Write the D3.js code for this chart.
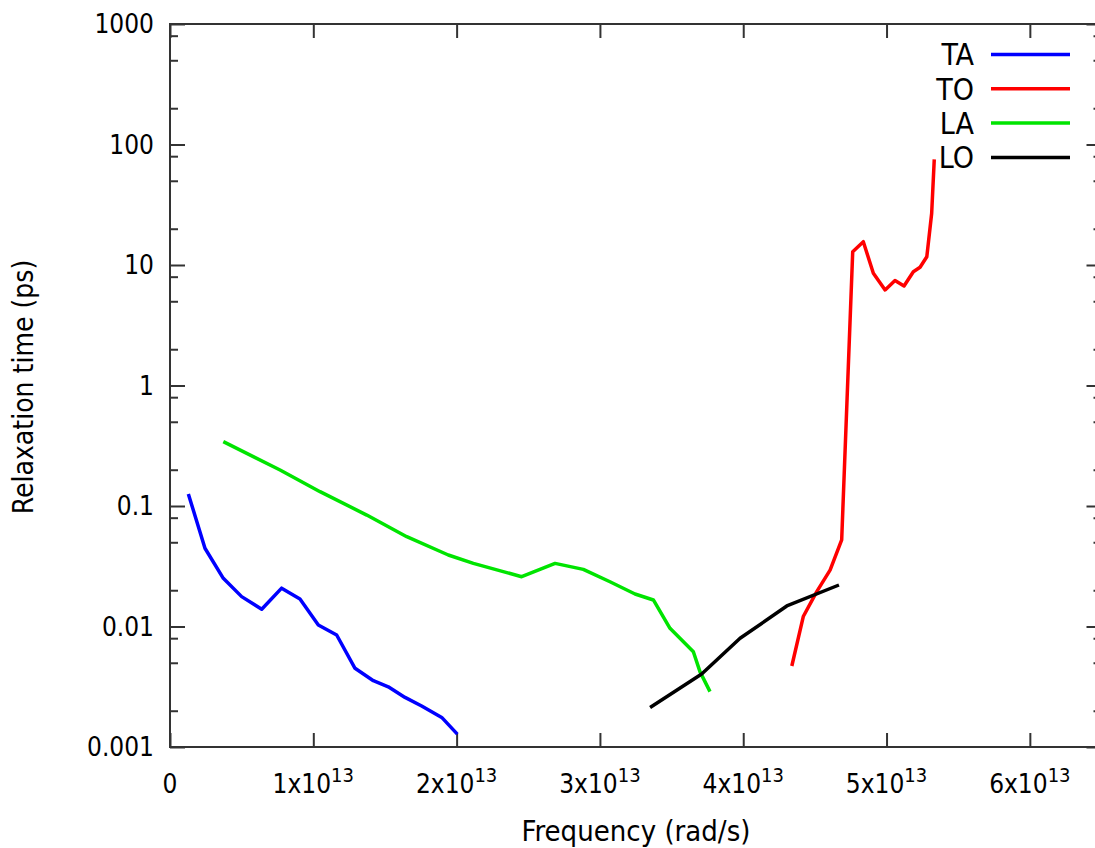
<!DOCTYPE html>
<html>
<head>
<meta charset="utf-8">
<script src="https://cdn.jsdelivr.net/npm/d3@7"></script>
<style>
  body { margin: 0; background: #fff; }
  text { font-family: "DejaVu Sans Condensed", "Liberation Sans", sans-serif; fill: #000; }
</style>
</head>
<body>
<svg id="chart"></svg>
<script>
// frequencies in rad/s, relaxation times in ps
var taFreq = [0.128e13, 0.244e13, 0.372e13, 0.500e13, 0.640e13, 0.779e13, 0.907e13, 1.035e13,
              1.163e13, 1.291e13, 1.419e13, 1.523e13, 1.640e13, 1.756e13, 1.896e13, 2.005e13];
var taTime = [0.126, 0.0446, 0.0251, 0.0177, 0.0139, 0.0208, 0.0169, 0.0103,
              0.0085, 0.0045, 0.00355, 0.00316, 0.00258, 0.00219, 0.00176, 0.00128];

var toFreq = [4.339e13, 4.419e13, 4.513e13, 4.606e13, 4.687e13, 4.764e13, 4.838e13, 4.908e13,
              4.990e13, 5.059e13, 5.122e13, 5.187e13, 5.234e13, 5.281e13, 5.315e13, 5.333e13];
var toTime = [0.0047, 0.0121, 0.0195, 0.0294, 0.0523, 12.9, 15.6, 8.53,
              6.21, 7.43, 6.69, 8.80, 9.57, 11.7, 26.9, 75.3];

var laFreq = [0.372e13, 0.768e13, 1.047e13, 1.373e13, 1.652e13, 1.942e13, 2.117e13, 2.454e13,
              2.687e13, 2.884e13, 3.070e13, 3.245e13, 3.373e13, 3.489e13, 3.652e13, 3.698e13, 3.768e13];
var laTime = [0.342, 0.199, 0.1315, 0.0841, 0.0556, 0.0392, 0.0334, 0.0259,
              0.0334, 0.0298, 0.0235, 0.0186, 0.0166, 0.00966, 0.00618, 0.00422, 0.00288];

var loFreq = [3.350e13, 3.710e13, 3.978e13, 4.304e13, 4.668e13];
var loTime = [0.00213, 0.00404, 0.00798, 0.0148, 0.0221];

var seriesNames = ["TA", "TO", "LA", "LO"];
var seriesColors = ["#0000ff", "#ff0000", "#00e400", "#000000"];

var yTicks = [1000, 100, 10, 1, 0.1, 0.01, 0.001];
var yTickLabels = ["1000", "100", "10", "1", "0.1", "0.01", "0.001"];
var yMinorFactors = [2, 5, 8];
var xTicks = [0, 1e13, 2e13, 3e13, 4e13, 5e13, 6e13];
var xTickMantissa = ["0", "1", "2", "3", "4", "5", "6"];

var svgWidth = 1095, svgHeight = 848;
var plotLeft = 170, plotTop = 24, plotRight = 1101.5, plotBottom = 747;

var svg = d3.select("#chart")
    .attr("width", svgWidth)
    .attr("height", svgHeight);

var x = d3.scaleLinear().domain([0, 6.5e13]).range([plotLeft, plotRight]);
var y = d3.scaleLog().domain([0.001, 1000]).range([plotBottom, plotTop]);

var minorY = [];
yTicks.forEach(function(t) {
    if (t < 1000) yMinorFactors.forEach(function(f) { minorY.push(t * f); });
});

function styleAxis(g) {
    g.select(".domain").remove();
    g.selectAll("line").attr("stroke", "#333").attr("stroke-width", 2);
}

// ticks on all four sides, pointing inward
svg.append("g").attr("transform", "translate(0," + plotBottom + ")")
    .call(d3.axisBottom(x).tickValues(xTicks).tickSize(-14).tickFormat("")).call(styleAxis);
svg.append("g").attr("transform", "translate(0," + plotTop + ")")
    .call(d3.axisTop(x).tickValues(xTicks).tickSize(-14).tickFormat("")).call(styleAxis);
svg.append("g").attr("transform", "translate(" + plotLeft + ",0)")
    .call(d3.axisLeft(y).tickValues(yTicks).tickSize(-15).tickFormat("")).call(styleAxis);
svg.append("g").attr("transform", "translate(" + plotLeft + ",0)")
    .call(d3.axisLeft(y).tickValues(minorY).tickSize(-8).tickFormat("")).call(styleAxis);
svg.append("g").attr("transform", "translate(" + plotRight + ",0)")
    .call(d3.axisRight(y).tickValues(yTicks).tickSize(-15).tickFormat("")).call(styleAxis);
svg.append("g").attr("transform", "translate(" + plotRight + ",0)")
    .call(d3.axisRight(y).tickValues(minorY).tickSize(-8).tickFormat("")).call(styleAxis);

svg.append("rect")
    .attr("x", plotLeft).attr("y", plotTop)
    .attr("width", plotRight - plotLeft).attr("height", plotBottom - plotTop)
    .attr("fill", "none").attr("stroke", "#333").attr("stroke-width", 2);

// y tick labels
svg.append("g").selectAll("text")
    .data(yTicks)
    .enter().append("text")
    .attr("x", plotLeft - 16)
    .attr("y", function(d) { return y(d); })
    .attr("dy", "0.36em")
    .attr("text-anchor", "end")
    .style("font-size", "26px")
    .text(function(d, i) { return yTickLabels[i]; });

// x tick labels with superscript exponent
var xl = svg.append("g").selectAll("text")
    .data(xTicks)
    .enter().append("text")
    .attr("x", function(d) { return x(d); })
    .attr("y", 793)
    .attr("text-anchor", "middle")
    .style("font-size", "26px");
xl.append("tspan").text(function(d, i) { return i === 0 ? "0" : xTickMantissa[i] + "x10"; });
xl.filter(function(d, i) { return i > 0; })
    .append("tspan")
    .attr("dy", -11)
    .style("font-size", "20px")
    .text("13");

svg.append("text")
    .attr("x", 636).attr("y", 841)
    .attr("text-anchor", "middle")
    .style("font-size", "29px")
    .text("Frequency (rad/s)");

svg.append("text")
    .attr("transform", "translate(33,387) rotate(-90)")
    .attr("text-anchor", "middle")
    .style("font-size", "28px")
    .text("Relaxation time (ps)");

// curves
var line = d3.line()
    .x(function(d) { return x(d[0]); })
    .y(function(d) { return y(d[1]); });

var series = [
    d3.zip(taFreq, taTime),
    d3.zip(toFreq, toTime),
    d3.zip(laFreq, laTime),
    d3.zip(loFreq, loTime)
];

svg.append("g").selectAll("path")
    .data(series)
    .enter().append("path")
    .attr("fill", "none")
    .attr("stroke", function(d, i) { return seriesColors[i]; })
    .attr("stroke-width", 3.5)
    .attr("stroke-linejoin", "round")
    .attr("d", line);

// legend
var legend = svg.selectAll(".legend")
    .data(seriesNames)
    .enter().append("g")
    .attr("class", "legend")
    .attr("transform", function(d, i) { return "translate(0," + (54.5 + i * 34.3) + ")"; });

legend.append("line")
    .attr("x1", 991).attr("x2", 1070)
    .attr("stroke", function(d, i) { return seriesColors[i]; })
    .attr("stroke-width", 3.5);

legend.append("text")
    .attr("x", 974)
    .attr("dy", "0.36em")
    .attr("text-anchor", "end")
    .style("font-size", "30px")
    .text(function(d) { return d; });
</script>
</body>
</html>
